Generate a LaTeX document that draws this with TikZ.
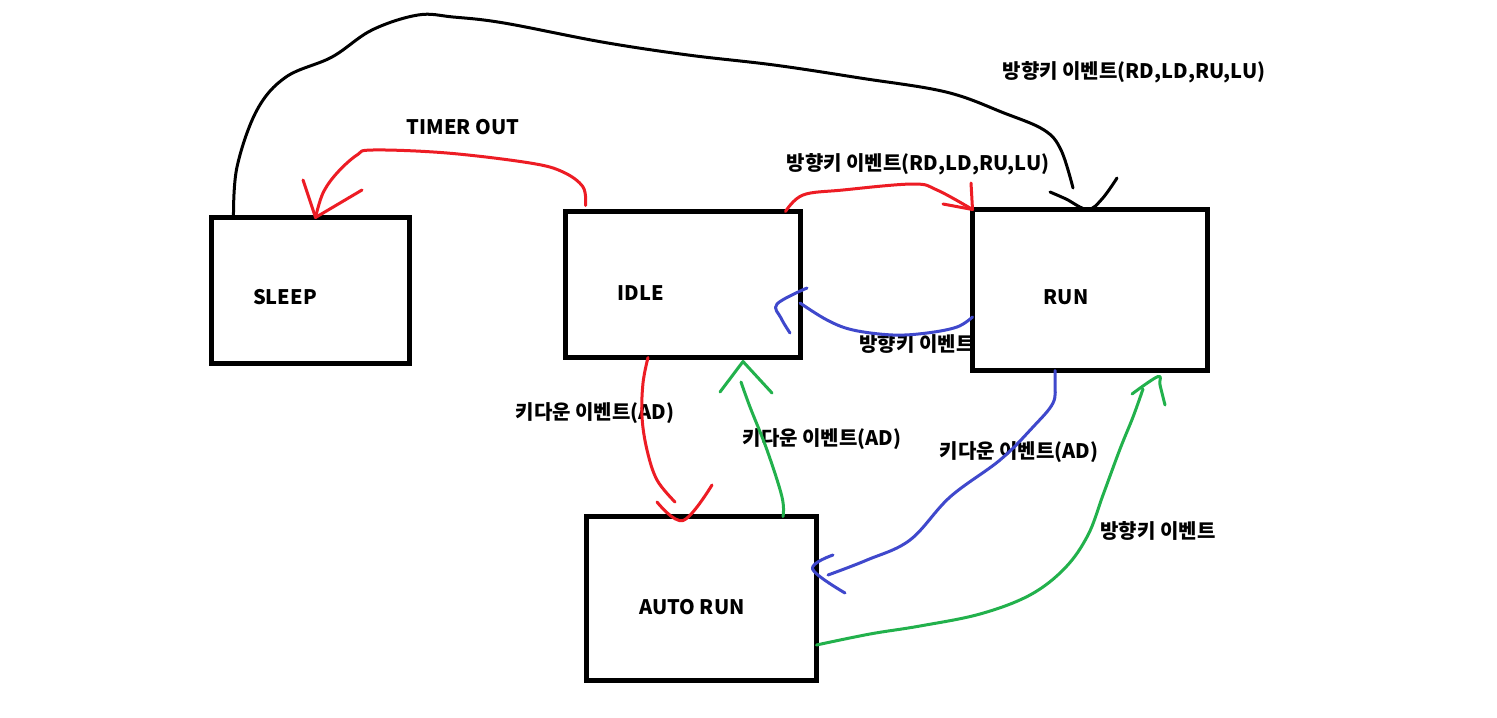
\documentclass[tikz,border=0pt]{standalone}
\usepackage{fontspec}
\setmainfont{Noto Sans CJK KR}
\definecolor{pred}{RGB}{237,28,36}
\definecolor{pblue}{RGB}{63,72,204}
\definecolor{pgreen}{RGB}{34,177,76}
\begin{document}
\begin{tikzpicture}[x=0.5pt,y=-0.5pt,
  statebox/.style={draw, line width=2.4pt, inner sep=0pt, outer sep=0pt},
  lbl/.style={font=\bfseries\fontsize{10}{12}\selectfont, inner sep=0pt},
  stroke/.style={line width=1.5pt, line cap=round, line join=round},
  curve/.style={stroke, smooth, tension=0.6}
]
\useasboundingbox[fill=white] (0,0) rectangle (1497,717);

% state boxes
\node[statebox, minimum width=99pt, minimum height=73pt] (sleep) at (310.5,290.5) {};
\node[statebox, minimum width=117.5pt, minimum height=73pt] (idle) at (683,284.5) {};
\node[statebox, minimum width=117.5pt, minimum height=80.5pt] (run) at (1090,290) {};
\node[statebox, minimum width=115pt, minimum height=82pt] (auto) at (701.5,598.5) {};

% state labels
\node[lbl] (tsleep) at (285,297) {SLEEP};
\node[lbl] (tidle) at (641,293) {IDLE};
\node[lbl] (trun) at (1066,297) {RUN};
\node[lbl] (tauto) at (692,607) {AUTO RUN};

% transition labels
\node[lbl] (t1) at (1134,72) {방향키 이벤트(RD,LD,RU,LU)};
\node[lbl] (t2) at (463,127) {TIMER OUT};
\node[lbl] (t3) at (918,164) {방향키 이벤트(RD,LD,RU,LU)};
\node[lbl] (t4) at (917,344) {방향키 이벤트};
\node[lbl] (t5) at (595,413) {키다운 이벤트(AD)};
\node[lbl] (t6) at (822,439) {키다운 이벤트(AD)};
\node[lbl] (t7) at (1019,452) {키다운 이벤트(AD)};
\node[lbl] (t8) at (1158,531) {방향키 이벤트};

% anchor coordinates on the boxes
\coordinate (bkS) at ([xshift=11pt]sleep.north west);
\coordinate (bkT) at ([xshift=57.5pt]run.north west);
\coordinate (toS) at ([xshift=10pt,yshift=3pt]idle.north west);
\coordinate (toT) at ([xshift=52pt]sleep.north west);
\coordinate (irS) at ([xshift=-7.5pt]idle.north east);
\coordinate (irT) at (run.north west);
\coordinate (riS) at ([yshift=-13.5pt]run.west);
\coordinate (iaS) at ([xshift=-17.5pt]idle.south);
\coordinate (iaT) at ([xshift=-9.25pt,yshift=-2pt]auto.north);
\coordinate (aiS) at ([xshift=40.75pt]auto.north);
\coordinate (aiT) at ([xshift=30pt,yshift=-2pt]idle.south);
\coordinate (raS) at ([xshift=-17.5pt]run.south);
\coordinate (raT) at ([xshift=-2pt,yshift=14.75pt]auto.east);
\coordinate (arS) at ([yshift=-23.25pt]auto.east);
\coordinate (arT) at ([xshift=34pt,yshift=-3pt]run.south);

% black: SLEEP -> RUN
\draw[curve, black] plot coordinates {(bkS) (237,167) (257,110) (286,77) (332,57) (372,30) (418,15) (453,17) (504,23) (602,42) (688,55) (774,65) (860,78) (946,92) (1004,113) (1044,130) (1061,150) (1073,188)};
\draw[curve, black] plot coordinates {(1050,192) (1066,199) (bkT) (1102,199) (1117,178)};

% red: IDLE -> SLEEP (TIMER OUT)
\draw[curve, pred] plot coordinates {(toS) (583,187) (563,172) (530,163) (447,153) (373,150) (357,155) (337,173) (323,193) (toT)};
\draw[stroke, pred] (303,180) -- (toT) -- (362,190);

% red: IDLE -> RUN
\draw[curve, pred] plot coordinates {(irS) (803,195) (843,190) (913,184) (937,190) (irT)};
\draw[stroke, pred] (943,204) -- (irT) -- (971,183);

% blue: RUN -> IDLE
\draw[curve, pblue] plot coordinates {(riS) (957,327) (927,333) (893,335) (853,330) (827,320) (800,303)};
\draw[curve, pblue] plot coordinates {(807,288) (777,304) (781,318) (790,333)};

% red: IDLE -> AUTO RUN
\draw[curve, pred] plot coordinates {(iaS) (643,383) (642,417) (647,450) (657,480) (675,502)};
\draw[curve, pred] plot coordinates {(657,502) (iaT) (712,485)};

% green: AUTO RUN -> IDLE
\draw[curve, pgreen] plot coordinates {(aiS) (782,497) (767,450) (750,407) (741,382)};
\draw[stroke, pgreen] (720,392) -- (aiT) -- (772,393);

% blue: RUN -> AUTO RUN
\draw[curve, pblue] plot coordinates {(raS) (1055,383) (1053,403) (1033,427) (1000,460) (950,497) (910,540) (867,560) (828,575)};
\draw[curve, pblue] plot coordinates {(833,555) (raT) (845,593)};

% green: AUTO RUN -> RUN
\draw[curve, pgreen] plot coordinates {(arS) (870,634) (920,626) (980,614) (1030,595) (1065,568) (1088,535) (1103,495) (1120,449) (1133,417) (1143,389)};
\draw[curve, pgreen] plot coordinates {(1132,394) (arT) (1160,385) (1165,405)};
\end{tikzpicture}
\end{document}
